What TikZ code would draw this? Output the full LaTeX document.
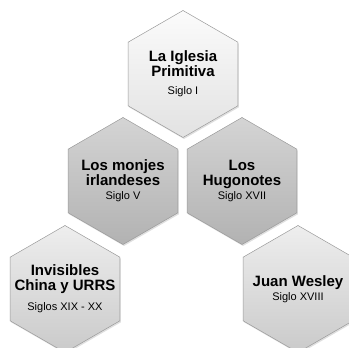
\documentclass[tikz,border=0pt]{standalone}
\usepackage{fontspec}
\setmainfont{Liberation Sans}
\usepackage{tikz}
\usetikzlibrary{shapes.geometric,shadows}

\definecolor{hexlighttop}{HTML}{FBFBFB}
\definecolor{hexlightbot}{HTML}{E2E2E2}
\definecolor{hexdarktop}{HTML}{D4D4D4}
\definecolor{hexdarkbot}{HTML}{B2B2B2}
\definecolor{hexpaletop}{HTML}{EEEEEE}
\definecolor{hexpalebot}{HTML}{CACACA}
\definecolor{hexedge}{HTML}{9A9A9A}

\newcommand{\hexsub}{\fontsize{11}{13}\selectfont\mdseries}

\begin{document}
\begin{tikzpicture}[
  x=1pt, y=1pt,
  hex/.style={regular polygon, regular polygon sides=6, shape border rotate=30,
              minimum size=127pt, inner sep=-20pt, outer sep=0pt, draw=hexedge, line width=0.5pt,
              align=center, font=\fontsize{15}{14.5}\selectfont\bfseries,
              drop shadow={opacity=0.25, shadow xshift=1pt, shadow yshift=-1.5pt}},
  hextop/.style={hex, top color=hexlighttop, bottom color=hexlightbot},
  hexmid/.style={hex, top color=hexdarktop, bottom color=hexdarkbot},
  hexlow/.style={hex, top color=hexpaletop, bottom color=hexpalebot}
]
\useasboundingbox (0,0) rectangle (349,348);

\node[hextop] (iglesia)    at (183,274) {La Iglesia\\Primitiva\\[4pt]\hexsub Siglo I};
\node[hexmid] (monjes)     at (123,167) {Los monjes\\irlandeses\\[0pt]\hexsub Siglo V};
\node[hexmid] (hugonotes)  at (242,167) {Los\\Hugonotes\\[0pt]\hexsub Siglo XVII};
\node[hexlow] (invisibles) at (65,59)   {Invisibles\\China y URRS\\[6pt]\hexsub Siglos XIX - XX};
\node[hexlow] (wesley)     at (298,59)  {Juan Wesley\\[-1pt]\hexsub Siglo XVIII};
\end{tikzpicture}
\end{document}
